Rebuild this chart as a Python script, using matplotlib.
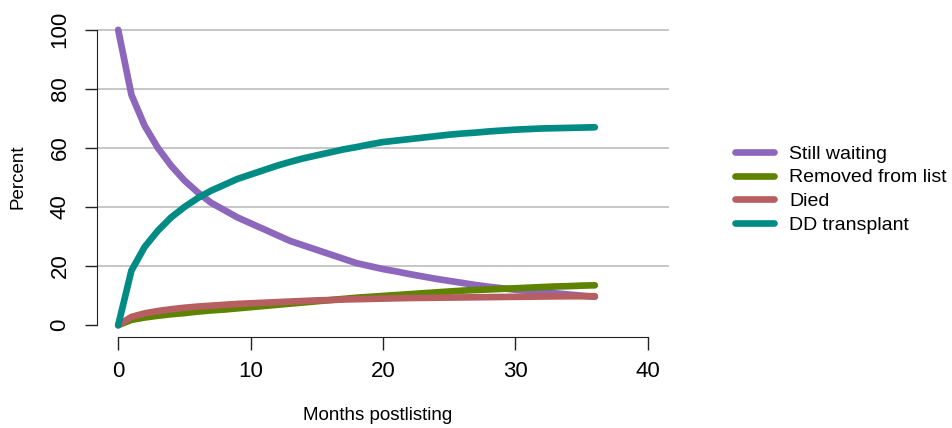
import numpy as np
import matplotlib.pyplot as plt

plt.rcParams['font.family'] = ['Liberation Sans', 'DejaVu Sans']

# months since listing
months = np.arange(0, 37)

still_waiting = [100, 78, 67.5, 60, 54, 49, 45, 41.5, 39, 36.5, 34.5, 32.5, 30.5,
                 28.5, 27, 25.5, 24, 22.5, 21, 20, 19, 18.2, 17.3, 16.5, 15.7,
                 15, 14.3, 13.6, 13, 12.5, 12, 11.6, 11.2, 10.8, 10.4, 10, 9.6]
removed = [0, 1.8, 2.6, 3.2, 3.7, 4.1, 4.6, 5, 5.3, 5.7, 6.1, 6.5, 6.9, 7.3,
           7.7, 8.1, 8.5, 8.9, 9.3, 9.6, 9.9, 10.2, 10.5, 10.8, 11.1, 11.4,
           11.7, 11.9, 12.1, 12.3, 12.5, 12.7, 12.9, 13.1, 13.2, 13.4, 13.5]
died = [0, 2.8, 4, 4.8, 5.4, 5.9, 6.3, 6.6, 6.9, 7.2, 7.4, 7.6, 7.8, 8, 8.2,
        8.4, 8.5, 8.7, 8.8, 8.9, 9, 9.1, 9.2, 9.25, 9.3, 9.35, 9.4, 9.45, 9.5,
        9.55, 9.6, 9.65, 9.7, 9.75, 9.8, 9.8, 9.8]
transplant = [0, 18.5, 26.5, 32, 36.5, 40, 43, 45.5, 47.5, 49.5, 51, 52.5, 54,
              55.3, 56.5, 57.5, 58.5, 59.5, 60.3, 61.2, 62, 62.5, 63, 63.5, 64,
              64.5, 64.9, 65.2, 65.6, 65.9, 66.2, 66.4, 66.6, 66.7, 66.8, 66.9, 67]

labels = ['Still waiting', 'Removed from list', 'Died', 'DD transplant']
colors = ['#8C67BB', '#5E8300', '#B75E60', '#008B84']

fig = plt.figure(figsize=(9.52, 4.28), dpi=100)
ax = fig.add_axes([97/952, 1-337/428, (669-97)/952, (337-18)/428])

# grid lines (no line at 0)
for yv in range(20, 101, 20):
    ax.axhline(yv, color='#BEBEBE', lw=1.2, zorder=0)

series = [still_waiting, removed, died, transplant]
for s, lab, col in zip(series, labels, colors):
    ax.plot(months, s, color=col, lw=4.8, label=lab,
            solid_capstyle='round', solid_joinstyle='round')

ax.set_xlim(-1.6, 41.6)
ax.set_ylim(-4, 104)
ax.set_xticks(range(0, 41, 10))
ax.set_yticks(range(0, 101, 20))

for sp in ['top', 'right']:
    ax.spines[sp].set_visible(False)
ax.spines['left'].set_bounds(0, 100)
ax.spines['bottom'].set_bounds(0, 40)
ax.spines['left'].set_color('#222222')
ax.spines['bottom'].set_color('#222222')

ax.tick_params(axis='both', length=9, width=1, color='#222222', labelsize=16)
ax.tick_params(axis='x', pad=8)
ax.tick_params(axis='y', pad=10)
for t in ax.get_yticklabels():
    t.set_rotation(90)
    t.set_va('center')

fig.text(378/952, 1-415/428, 'Months postlisting', fontsize=13.5,
         ha='center', va='center')
fig.text(18/952, 1-177/428, 'Percent', fontsize=13.5, rotation=90,
         ha='center', va='center')

ax.legend(loc='center left', bbox_to_anchor=(735/952, 1-189.5/428),
          bbox_transform=fig.transFigure, frameon=False, fontsize=14,
          handlelength=2.0, handletextpad=0.8, labelspacing=0.32,
          borderpad=0, borderaxespad=0)

fig.savefig('out.png', dpi=100)
